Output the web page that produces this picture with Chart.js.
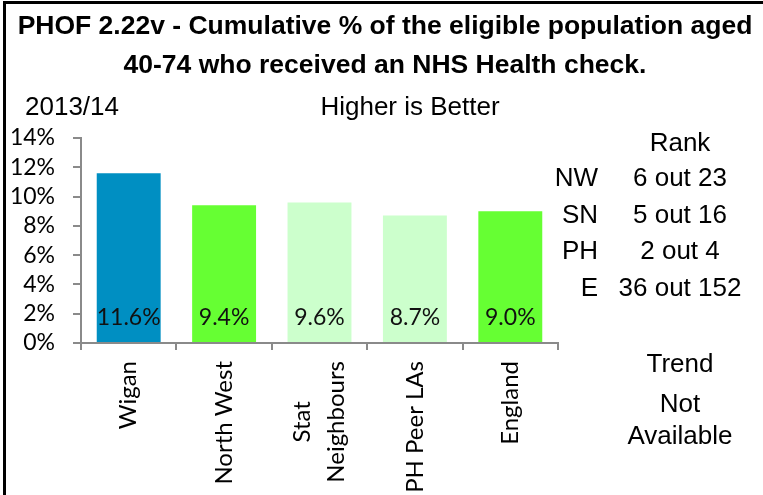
<!DOCTYPE html>
<html>
<head>
<meta charset="utf-8">
<script src="https://cdn.jsdelivr.net/npm/chart.js@4.4.1/dist/chart.umd.min.js"></script>
<style>
  html, body { margin: 0; padding: 0; background: #fff; }
  body { width: 763px; height: 495px; position: relative; overflow: hidden; font-family: "Liberation Sans", Arial, sans-serif; color: #000; }
  #frame { position: absolute; left: 3px; top: 1px; width: 800px; height: 600px; border-top: 3px solid #000; border-left: 3px solid #000; }
  #chart { position: absolute; left: 0; top: 0; }
  .txt { position: absolute; font-size: 26px; line-height: 30px; white-space: nowrap; }
  #title { position: absolute; left: 8px; top: 6px; width: 754px; text-align: center; font-weight: bold; font-size: 26.5px; line-height: 39px; white-space: nowrap; }
  #rank { position: absolute; left: 540px; top: 159px; font-size: 26px; line-height: 36.67px; }
  #rank .row { position: relative; height: 36.67px; }
  #rank .lab { position: absolute; right: -58px; width: 100px; text-align: right; }
  #rank .val { position: absolute; left: 40px; width: 200px; text-align: center; white-space: nowrap; }
</style>
</head>
<body>
<div id="frame"></div>
<canvas id="chart" width="763" height="495"></canvas>
<div id="title">PHOF 2.22v - Cumulative % of the eligible population aged<br>40-74 who received an NHS Health check.</div>
<div class="txt" style="left:25px; top:91px;">2013/14</div>
<div class="txt" style="left:310px; top:91px; width:200px; text-align:center;">Higher is Better</div>
<div class="txt" style="left:580px; top:127px; width:200px; text-align:center;">Rank</div>
<div id="rank"></div>
<div class="txt" style="left:580px; top:348px; width:200px; text-align:center;">Trend</div>
<div class="txt" style="left:580px; top:388px; width:200px; text-align:center;">Not</div>
<div class="txt" style="left:580px; top:420px; width:200px; text-align:center;">Available</div>
<script>
const categories = ['Wigan', 'North West', ['Stat', 'Neighbours'], 'PH Peer LAs', 'England'];
const values = [11.6, 9.4, 9.6, 8.7, 9.0];
const barColours = ['#008FC2', '#66FF33', '#CCFFCC', '#CCFFCC', '#66FF33'];
const yTickValues = [0, 2, 4, 6, 8, 10, 12, 14];
const rankLabels = ['NW', 'SN', 'PH', 'E'];
const rankValues = ['6 out 23', '5 out 16', '2 out 4', '36 out 152'];

const axisGrey = '#8a8a8a';
const calibriLike = 'Lato, "Open Sans", sans-serif';

// tabla de ranking a la derecha
let template = '';
for (let i = 0; i < rankLabels.length; i++) {
    template += `<div class="row"><span class="lab">${rankLabels[i]}</span><span class="val">${rankValues[i]}</span></div>`;
}
document.querySelector('#rank').innerHTML = template;

// etiquetas de valor dentro de la barra, abajo
const barLabels = {
    id: 'barLabels',
    afterDatasetsDraw(chart) {
        const ctx = chart.ctx;
        const y0 = chart.scales.y.getPixelForValue(0);
        ctx.save();
        ctx.font = `23px ${calibriLike}`;
        ctx.fillStyle = '#111';
        ctx.textAlign = 'center';
        ctx.textBaseline = 'alphabetic';
        chart.getDatasetMeta(0).data.forEach((bar, i) => {
            ctx.fillText(values[i].toFixed(1) + '%', bar.x, y0 - 18);
        });
        ctx.restore();
    }
};

// etiquetas del eje x giradas, líneas centradas entre sí
const xLabels = {
    id: 'xLabels',
    afterDraw(chart) {
        const ctx = chart.ctx;
        const xs = chart.scales.x;
        const top = xs.top + 18;
        const lineH = 34;
        ctx.save();
        ctx.font = `24px ${calibriLike}`;
        ctx.fillStyle = '#000';
        ctx.textAlign = 'center';
        ctx.textBaseline = 'middle';
        categories.forEach((cat, i) => {
            const lines = Array.isArray(cat) ? cat : [cat];
            const w = Math.max(...lines.map(l => ctx.measureText(l).width));
            const x = xs.getPixelForValue(i);
            ctx.save();
            ctx.translate(x, top);
            ctx.rotate(-Math.PI / 2);
            lines.forEach((l, k) => {
                ctx.fillText(l, -w / 2, (k - (lines.length - 1) / 2) * lineH);
            });
            ctx.restore();
        });
        ctx.restore();
    }
};

const config = {
    type: 'bar',
    data: {
        labels: categories,
        datasets: [{
            data: values,
            backgroundColor: barColours,
            borderWidth: 0,
            barPercentage: 0.67,
            categoryPercentage: 1
        }]
    },
    options: {
        responsive: false,
        animation: false,
        layout: { padding: { left: 11, right: 205, top: 138, bottom: 142 } },
        plugins: { legend: { display: false }, tooltip: { enabled: false }, title: { display: false } },
        scales: {
            x: {
                grid: { offset: true, drawOnChartArea: false, tickLength: 7, color: axisGrey, lineWidth: 2 },
                border: { color: axisGrey, width: 2 },
                ticks: { display: false },
                afterFit: s => { s.height = 10; }
            },
            y: {
                min: 0,
                max: 14,
                afterBuildTicks: s => { s.ticks = yTickValues.map(v => ({ value: v })); },
                grid: { drawOnChartArea: false, tickLength: 8, color: axisGrey, lineWidth: 2 },
                border: { color: axisGrey, width: 2 },
                ticks: {
                    font: { family: calibriLike, size: 23 },
                    color: '#000',
                    padding: 18,
                    autoSkip: false,
                    callback: v => v + '%'
                },
                afterFit: s => { s.width = 70; }
            }
        }
    },
    plugins: [barLabels, xLabels]
};

new Chart(document.getElementById('chart'), config);
</script>
</body>
</html>
